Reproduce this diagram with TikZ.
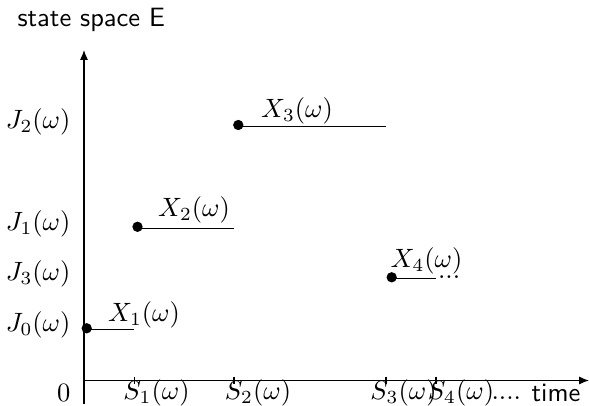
\documentclass[tikz,border=0pt]{standalone}
\usetikzlibrary{arrows.meta}
\begin{document}
\begin{tikzpicture}[x=0.3774pt,y=0.3774pt,
  axisline/.style={line width=0.4pt,-{Latex[length=3.7pt,width=3pt]}},
  segline/.style={line width=0.4pt},
  tickline/.style={line width=0.4pt},
  dotn/.style={circle,fill=black,inner sep=0pt,minimum size=3.9pt},
  lab/.style={inner sep=0pt,font=\normalsize},
  sflab/.style={inner sep=0pt,font=\sffamily}]
\useasboundingbox (0,0) rectangle (589,406);
% axes
\coordinate (O) at (84,25.5);
\coordinate (xend) at (589,25.5);
\coordinate (ybot) at (84,2);
\coordinate (ytop) at (84,356);
\draw[axisline] (O) -- (xend);
\draw[axisline] (ybot) -- (ytop);
% ticks
\coordinate (t1u) at (134.3,29.3); \coordinate (t1d) at (134.3,22);
\coordinate (t2u) at (234,29.3);   \coordinate (t2d) at (234,22);
\coordinate (t3u) at (386,29.3);   \coordinate (t3d) at (386,22);
\coordinate (t4u) at (436,29.3);   \coordinate (t4d) at (436,22);
\draw[tickline] (t1u) -- (t1d);
\draw[tickline] (t2u) -- (t2d);
\draw[tickline] (t3u) -- (t3d);
\draw[tickline] (t4u) -- (t4d);
% segments
\coordinate (a1) at (86.7,76.5);  \coordinate (b1) at (134.3,76.5);
\coordinate (a2) at (137.5,177.7); \coordinate (b2) at (234,177.7);
\coordinate (a3) at (238.3,279.3); \coordinate (b3) at (386.5,279.3);
\coordinate (a4) at (391.7,127.3); \coordinate (b4) at (436.5,127.3);
\draw[segline] (a1) -- (b1);
\draw[segline] (a2) -- (b2);
\draw[segline] (a3) -- (b3);
\draw[segline] (a4) -- (b4);
\node[dotn] (d1) at (86.7,77.7) {};
\node[dotn] (d2) at (137.5,179.2) {};
\node[dotn] (d3) at (238.3,281) {};
\node[dotn] (d4) at (391.7,128.7) {};
% X labels
\node[lab] (x1) at (144,91) {$X_1(\omega)$};
\node[lab] (x2) at (194,196) {$X_2(\omega)$};
\node[lab] (x3) at (297,295) {$X_3(\omega)$};
\node[lab] (x4) at (426.5,145) {$X_4(\omega)$};
\node[lab,anchor=base west] (x4dots) at (437.5,127.3) {...};
% J labels
\node[lab,anchor=east] (j2) at (71,284.3) {$J_2(\omega)$};
\node[lab,anchor=east] (j1) at (71,181.8) {$J_1(\omega)$};
\node[lab,anchor=east] (j3) at (71,131.8) {$J_3(\omega)$};
\node[lab,anchor=east] (j0) at (71,81.5) {$J_0(\omega)$};
\node[lab,anchor=east] (zero) at (71,13) {$0$};
% S labels
\node[lab] (s1) at (156.5,13) {$S_1(\omega)$};
\node[lab] (s2) at (258,13) {$S_2(\omega)$};
\node[lab] (s3) at (403.5,13) {$S_3(\omega)$};
\node[lab] (s4) at (461,13) {$S_4(\omega)$};
\node[lab,anchor=base west] (sdots) at (491,6.5) {....};
\node[sflab,anchor=base] (time) at (556,4) {time};
\node[sflab,anchor=base west] (state) at (17,379.5) {state space E};
\end{tikzpicture}
\end{document}
